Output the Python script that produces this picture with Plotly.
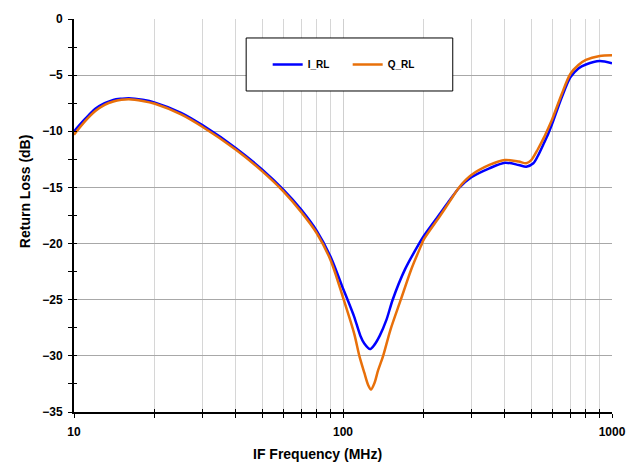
import plotly.graph_objects as go

freq_i = [10, 11, 12, 13, 14, 15, 16, 18, 20, 25, 30, 40, 50, 60, 70, 80, 90, 100,
          104, 110, 116, 120, 126, 131, 137, 145, 153, 170, 193, 200, 230, 250, 270,
          300, 350, 400, 450, 480, 510, 530, 560, 580, 600, 650, 700, 750, 800, 900, 1000]
i_rl = [-10.0, -8.9, -8.0, -7.5, -7.2, -7.1, -7.05, -7.2, -7.45, -8.35, -9.45, -11.5,
        -13.4, -15.2, -17.0, -18.9, -21.2, -24.0,
        -25.0, -26.5, -28.2, -28.9, -29.4, -29.0, -28.2, -26.8, -25.0, -22.3, -19.9,
        -19.3, -17.3, -16.1, -15.05,
        -14.1, -13.3, -12.8, -13.0, -13.15, -12.85, -12.2, -11.0, -10.2, -9.3, -7.0,
        -5.2, -4.4, -4.05, -3.75, -3.95]

freq_q = [10, 11, 12, 13, 14, 15, 16, 18, 20, 25, 30, 40, 50, 60, 70, 80, 90, 100,
          110, 115, 120, 124, 127, 131, 135, 141, 150, 164, 180, 195, 200, 230, 250, 270,
          300, 350, 400, 450, 480, 500, 530, 560, 580, 600, 650, 700, 750, 800, 900, 1000]
q_rl = [-10.3, -9.1, -8.2, -7.65, -7.35, -7.2, -7.15, -7.3, -7.55, -8.5, -9.6, -11.65,
        -13.55, -15.35, -17.2, -19.1, -21.5, -24.8,
        -28.0, -30.0, -31.5, -32.6, -33.0, -32.4, -31.3, -30.0, -27.7, -25.0, -22.2,
        -20.2, -19.6, -17.5, -16.2, -15.0,
        -13.9, -13.0, -12.55, -12.7, -12.85, -12.6, -11.6, -10.5, -9.7, -8.9, -6.7,
        -4.9, -4.1, -3.65, -3.3, -3.23]

y_ticks = [0, -5, -10, -15, -20, -25, -30, -35]
x_ticks = [10, 100, 1000]

FONT = "Arial, Liberation Sans, sans-serif"

fig = go.Figure()
fig.add_trace(go.Scatter(x=freq_i, y=i_rl, name="I_RL", mode="lines",
                         line=dict(color="#0000FF", width=2.5, shape="spline", smoothing=0.8)))
fig.add_trace(go.Scatter(x=freq_q, y=q_rl, name="Q_RL", mode="lines",
                         line=dict(color="#E8700A", width=2.5, shape="spline", smoothing=0.8)))
# helper empty trace to show inside (crossing) ticks
fig.add_trace(go.Scatter(x=[None], y=[None], xaxis="x2", yaxis="y2",
                         showlegend=False, hoverinfo="skip"))

fig.update_layout(
    width=634, height=458,
    margin=dict(l=66, r=30, t=11, b=54),
    paper_bgcolor="white", plot_bgcolor="white",
    font=dict(family=FONT, size=12, color="black"),
    showlegend=True,
    legend=dict(orientation="h", x=0.36, y=0.884, xanchor="left", yanchor="middle",
                bgcolor="rgba(0,0,0,0)", borderwidth=0, entrywidth=35,
                font=dict(family=FONT, size=10, color="black", weight="bold")),
    xaxis=dict(type="log", range=[1, 3], automargin=False,
               tickvals=x_ticks, ticktext=["10", "100", "1000"],
               tickfont=dict(family=FONT, size=12, weight="bold"),
               ticklabelstandoff=4,
               showgrid=True, gridcolor="#cfcfcf", gridwidth=1,
               minor=dict(showgrid=True, gridcolor="#d6d6d6", gridwidth=1,
                          ticks="outside", ticklen=4, tickcolor="black", tickwidth=1,
                          tickvals=[20, 30, 40, 50, 60, 70, 80, 90,
                                    200, 300, 400, 500, 600, 700, 800, 900]),
               ticks="outside", ticklen=4, tickcolor="black", tickwidth=1,
               showline=True, linecolor="black", linewidth=2,
               zeroline=False),
    yaxis=dict(range=[-35, 0], automargin=False,
               tickvals=y_ticks,
               tickfont=dict(family=FONT, size=12, weight="bold"),
               ticklabelstandoff=3,
               showgrid=True, gridcolor="#a8a8a8", gridwidth=1,
               minor=dict(showgrid=False, ticks="outside", ticklen=4, tickcolor="black",
                          tickwidth=1, dtick=2.5),
               ticks="outside", ticklen=4, tickcolor="black", tickwidth=1,
               showline=True, linecolor="black", linewidth=2,
               zeroline=False),
    xaxis2=dict(type="log", range=[1, 3], overlaying="x", anchor="y2", automargin=False,
                showgrid=False, showticklabels=False, showline=False, zeroline=False,
                tickvals=[10, 20, 30, 40, 50, 60, 70, 80, 90, 100,
                          200, 300, 400, 500, 600, 700, 800, 900, 1000],
                ticks="inside", ticklen=3, tickcolor="black", tickwidth=1),
    yaxis2=dict(range=[-35, 0], overlaying="y", anchor="x2", automargin=False,
                showgrid=False, showticklabels=False, showline=False, zeroline=False,
                dtick=2.5, tick0=0,
                ticks="inside", ticklen=3, tickcolor="black", tickwidth=1),
    shapes=[dict(type="rect", xref="paper", yref="paper",
                 x0=0.32, x1=0.704, y0=0.8168, y1=0.9517,
                 line=dict(color="black", width=1), fillcolor="white", layer="above")],
    annotations=[
        dict(text="IF Frequency (MHz)", xref="paper", yref="paper",
             x=0.4535, y=-0.107, xanchor="center", yanchor="middle", showarrow=False,
             font=dict(family=FONT, size=14, color="black", weight="bold")),
        dict(text="Return Loss (dB)", xref="paper", yref="paper", textangle=-90,
             x=-0.091, y=0.562, xanchor="center", yanchor="middle", showarrow=False,
             font=dict(family=FONT, size=14, color="black", weight="bold")),
    ],
)

fig.write_html("out.html")
